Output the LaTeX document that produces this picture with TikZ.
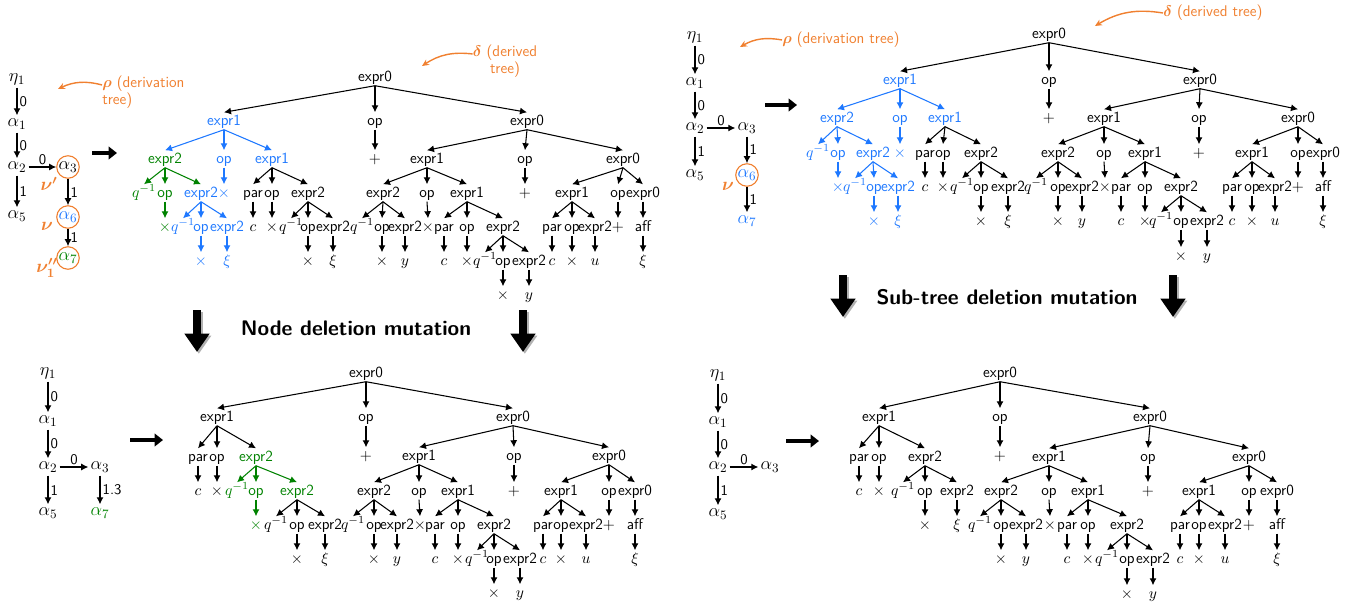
\RequirePackage{fix-cm}
\documentclass[tikz,border=0pt]{standalone}
\usepackage{amsmath,amssymb}
\usepackage{tikz}
\usetikzlibrary{arrows.meta}
\definecolor{derivOrange}{RGB}{240,128,48}
\definecolor{treeBlue}{RGB}{30,120,255}
\definecolor{treeGreen}{RGB}{0,130,0}

\begin{document}
\begin{tikzpicture}[x=0.025cm, y=-0.025cm,
    tn/.style={font=\sffamily\fontsize{11}{13}\selectfont, inner sep=1pt, text height=8pt, text depth=2pt},
    dn/.style={font=\fontsize{13}{15}\selectfont, inner sep=1.5pt, text height=6.5pt, text depth=2.5pt},
    hl/.style={circle, draw=derivOrange, line width=0.8pt, inner sep=0pt, minimum size=15pt},
    el/.style={font=\sffamily\fontsize{10.5}{12}\selectfont, inner sep=1.5pt},
    ed/.style={-{Latex[length=5pt,width=5pt]}, line width=0.75pt},
    edb/.style={ed, color=treeBlue},
    edg/.style={ed, color=treeGreen},
    lbl/.style={text=derivOrange, font=\sffamily\fontsize{11}{12.5}\selectfont, inner sep=0pt},
    nu/.style={lbl, font=\fontsize{13}{15}\selectfont},
    orarrow/.style={-{Stealth[length=5pt,width=4.5pt]}, color=derivOrange, line width=1pt},
    bigright/.style={line width=3pt, -{Triangle[length=6pt,width=9pt]}},
    bigdown/.style={line width=5.5pt, -{Triangle[length=13pt,width=17pt]}},
    title/.style={font=\sffamily\bfseries\fontsize{15}{17}\selectfont}]
  \useasboundingbox (0,0) rectangle (1363,605);

  % ---------- top left: derivation tree
  \node[dn] (Aeta) at (17,79) {$\eta_1$};
  \node[dn] (Aal1) at (17,124) {$\alpha_1$};
  \node[dn] (Aal2) at (17,167) {$\alpha_2$};
  \node[dn] (Aal5) at (17,216) {$\alpha_5$};
  \node[dn, hl] (Aal3) at (68,167) {$\alpha_3$};
  \node[dn, hl, text=treeBlue] (Aal6) at (68,217) {$\alpha_6$};
  \node[dn, hl, text=treeGreen] (Aal7) at (68,258) {$\alpha_7$};
  \draw[ed] (Aeta) -- node[el, right] {0} (Aal1);
  \draw[ed] (Aal1) -- node[el, right] {0} (Aal2);
  \draw[ed] (Aal2) -- node[el, above] {0} (Aal3);
  \draw[ed] (Aal2) -- node[el, right] {1} (Aal5);
  \draw[ed] (Aal3) -- node[el, right] {1} (Aal6);
  \draw[ed] (Aal6) -- node[el, right] {1} (Aal7);
  \node[nu] (Anu3) at (49,184) {$\boldsymbol{\nu'}$};
  \node[nu] (Anu6) at (47,226) {$\boldsymbol{\nu}$};
  \node[nu] (Anu7) at (47,268) {$\boldsymbol{\nu''_1}$};
  \node[lbl, align=left, anchor=west] (Arho) at (102,92) {$\boldsymbol{\rho}$ (derivation\\tree)};
  \coordinate (Arhotip) at (58,89);
  \draw[orarrow] ([yshift=5pt]Arho.west) to[bend right=20] (Arhotip);
  \coordinate (Agos) at (92,153);
  \coordinate (Agoe) at (117,153);
  \draw[bigright] (Agos) -- (Agoe);

  % ---------- top left: derived tree
  \node[tn] (Ar) at (375,77) {expr0};
  \node[lbl, align=center] (Adelta) at (505,61) {$\boldsymbol{\delta}$ (derived\\tree)};
  \coordinate (Adeltatip) at (422,66);
  \draw[orarrow] ([yshift=5pt]Adelta.west) to[bend right=20] (Adeltatip);
  \begin{scope}[every node/.style={tn, text=treeBlue}]
    \node (Ar1) at (224,121) {expr1};
    \node (Ar113) at (201,193) {expr2};
    \node (Ar1131) at (183,227) {$q^{-1}$};
    \node (Ar1132) at (201,227) {op};
    \node (Ar11321) at (201,261) {$\times$};
    \node (Ar1133) at (227,227) {expr2};
    \node (Ar11331) at (227,261) {$\xi$};
    \node (Ar12) at (224,159) {op};
    \node (Ar121) at (224,193) {$\times$};
    \node (Ar13) at (272,159) {expr1};
  \end{scope}
  \begin{scope}[every node/.style={tn, text=treeGreen}]
    \node (Ar11) at (165,159) {expr2};
    \node (Ar111) at (144,193) {$q^{-1}$};
    \node (Ar112) at (165,193) {op};
    \node (Ar1121) at (165,227) {$\times$};
  \end{scope}
  \node[tn] (Ar131) at (253,193) {par};
  \node[tn] (Ar1311) at (253,227) {$c$};
  \node[tn] (Ar132) at (272,193) {op};
  \node[tn] (Ar1321) at (272,227) {$\times$};
  \node[tn] (Ar133) at (308,193) {expr2};
  \node[tn] (Ar1331) at (291,227) {$q^{-1}$};
  \node[tn] (Ar1332) at (308,227) {op};
  \node[tn] (Ar13321) at (308,261) {$\times$};
  \node[tn] (Ar1333) at (333,227) {expr2};
  \node[tn] (Ar13331) at (333,261) {$\xi$};
  \node[tn] (Ar2) at (375,121) {op};
  \node[tn] (Ar21) at (375,159) {$+$};
  \node[tn] (Ar3) at (527,121) {expr0};
  \node[tn] (Ar31) at (427,159) {expr1};
  \node[tn] (Ar311) at (383,193) {expr2};
  \node[tn] (Ar3111) at (362,227) {$q^{-1}$};
  \node[tn] (Ar3112) at (382,227) {op};
  \node[tn] (Ar31121) at (382,261) {$\times$};
  \node[tn] (Ar3113) at (405,227) {expr2};
  \node[tn] (Ar31131) at (405,261) {$y$};
  \node[tn] (Ar312) at (427,193) {op};
  \node[tn] (Ar3121) at (428,227) {$\times$};
  \node[tn] (Ar313) at (467,193) {expr1};
  \node[tn] (Ar3131) at (444,227) {par};
  \node[tn] (Ar31311) at (444,261) {$c$};
  \node[tn] (Ar3132) at (467,227) {op};
  \node[tn] (Ar31321) at (467,261) {$\times$};
  \node[tn] (Ar3133) at (503,227) {expr2};
  \node[tn] (Ar31331) at (485,261) {$q^{-1}$};
  \node[tn] (Ar31332) at (503,261) {op};
  \node[tn] (Ar313321) at (503,295) {$\times$};
  \node[tn] (Ar31333) at (529,261) {expr2};
  \node[tn] (Ar313331) at (529,295) {$y$};
  \node[tn] (Ar32) at (525,159) {op};
  \node[tn] (Ar321) at (525,193) {$+$};
  \node[tn] (Ar33) at (623,159) {expr0};
  \node[tn] (Ar331) at (572,193) {expr1};
  \node[tn] (Ar3311) at (552,227) {par};
  \node[tn] (Ar33111) at (552,261) {$c$};
  \node[tn] (Ar3312) at (572,227) {op};
  \node[tn] (Ar33121) at (572,261) {$\times$};
  \node[tn] (Ar3313) at (595,227) {expr2};
  \node[tn] (Ar33131) at (595,261) {$u$};
  \node[tn] (Ar332) at (618,193) {op};
  \node[tn] (Ar3321) at (618,227) {$+$};
  \node[tn] (Ar333) at (643,193) {expr0};
  \node[tn] (Ar3331) at (643,227) {aff};
  \node[tn] (Ar33311) at (643,261) {$\xi$};

  % ---------- top right: derivation tree
  \node[dn] (Beta) at (695,37) {$\eta_1$};
  \node[dn] (Bal1) at (695,83) {$\alpha_1$};
  \node[dn] (Bal2) at (695,128) {$\alpha_2$};
  \node[dn] (Bal5) at (695,175) {$\alpha_5$};
  \node[dn] (Bal3) at (747,128) {$\alpha_3$};
  \node[dn, hl, text=treeBlue] (Bal6) at (747,175) {$\alpha_6$};
  \node[dn, text=treeBlue] (Bal7) at (747,221) {$\alpha_7$};
  \draw[ed] (Beta) -- node[el, right] {0} (Bal1);
  \draw[ed] (Bal1) -- node[el, right] {0} (Bal2);
  \draw[ed] (Bal2) -- node[el, above] {0} (Bal3);
  \draw[ed] (Bal2) -- node[el, right] {1} (Bal5);
  \draw[ed] (Bal3) -- node[el, right] {1} (Bal6);
  \draw[ed] (Bal6) -- node[el, right] {1} (Bal7);
  \node[nu] (Bnu6) at (728,186) {$\boldsymbol{\nu}$};
  \node[lbl, anchor=west] (Brho) at (782,40) {$\boldsymbol{\rho}$ (derivation tree)};
  \coordinate (Brhotip) at (740,47);
  \draw[orarrow] (Brho.west) to[bend right=20] (Brhotip);
  \coordinate (Bgos) at (765,105);
  \coordinate (Bgoe) at (797,105);
  \draw[bigright] (Bgos) -- (Bgoe);

  % ---------- top right: derived tree
  \node[tn] (Br) at (1049,34) {expr0};
  \node[lbl, anchor=west] (Bdelta) at (1163,13) {$\boldsymbol{\delta}$ (derived tree)};
  \coordinate (Bdeltatip) at (1095,26);
  \draw[orarrow] (Bdelta.west) to[bend right=20] (Bdeltatip);
  \begin{scope}[every node/.style={tn, text=treeBlue}]
    \node (Br1) at (900,80) {expr1};
    \node (Br11) at (837,118) {expr2};
    \node (Br111) at (818,153) {$q^{-1}$};
    \node (Br112) at (838,153) {op};
    \node (Br1121) at (838,187) {$\times$};
    \node (Br113) at (873,153) {expr2};
    \node (Br1131) at (855,187) {$q^{-1}$};
    \node (Br1132) at (874,187) {op};
    \node (Br11321) at (874,221) {$\times$};
    \node (Br1133) at (898,187) {expr2};
    \node (Br11331) at (898,221) {$\xi$};
    \node (Br12) at (900,118) {op};
    \node (Br121) at (900,153) {$\times$};
    \node (Br13) at (945,118) {expr1};
  \end{scope}
  \node[tn] (Br131) at (925,153) {par};
  \node[tn] (Br1311) at (925,187) {$c$};
  \node[tn] (Br132) at (943,153) {op};
  \node[tn] (Br1321) at (943,187) {$\times$};
  \node[tn] (Br133) at (981,153) {expr2};
  \node[tn] (Br1331) at (962,187) {$q^{-1}$};
  \node[tn] (Br1332) at (981,187) {op};
  \node[tn] (Br13321) at (981,221) {$\times$};
  \node[tn] (Br1333) at (1008,187) {expr2};
  \node[tn] (Br13331) at (1008,221) {$\xi$};
  \node[tn] (Br2) at (1049,80) {op};
  \node[tn] (Br21) at (1049,118) {$+$};
  \node[tn] (Br3) at (1200,80) {expr0};
  \node[tn] (Br31) at (1104,118) {expr1};
  \node[tn] (Br311) at (1058,153) {expr2};
  \node[tn] (Br3111) at (1036,187) {$q^{-1}$};
  \node[tn] (Br3112) at (1058,187) {op};
  \node[tn] (Br31121) at (1058,221) {$\times$};
  \node[tn] (Br3113) at (1082,187) {expr2};
  \node[tn] (Br31131) at (1082,221) {$y$};
  \node[tn] (Br312) at (1104,153) {op};
  \node[tn] (Br3121) at (1105,187) {$\times$};
  \node[tn] (Br313) at (1145,153) {expr1};
  \node[tn] (Br3131) at (1121,187) {par};
  \node[tn] (Br31311) at (1121,221) {$c$};
  \node[tn] (Br3132) at (1145,187) {op};
  \node[tn] (Br31321) at (1145,221) {$\times$};
  \node[tn] (Br3133) at (1181,187) {expr2};
  \node[tn] (Br31331) at (1161,221) {$q^{-1}$};
  \node[tn] (Br31332) at (1181,221) {op};
  \node[tn] (Br313321) at (1181,256) {$\times$};
  \node[tn] (Br31333) at (1207,221) {expr2};
  \node[tn] (Br313331) at (1207,256) {$y$};
  \node[tn] (Br32) at (1199,118) {op};
  \node[tn] (Br321) at (1199,153) {$+$};
  \node[tn] (Br33) at (1298,118) {expr0};
  \node[tn] (Br331) at (1252,153) {expr1};
  \node[tn] (Br3311) at (1232,187) {par};
  \node[tn] (Br33111) at (1232,221) {$c$};
  \node[tn] (Br3312) at (1252,187) {op};
  \node[tn] (Br33121) at (1252,221) {$\times$};
  \node[tn] (Br3313) at (1275,187) {expr2};
  \node[tn] (Br33131) at (1275,221) {$u$};
  \node[tn] (Br332) at (1298,153) {op};
  \node[tn] (Br3321) at (1298,187) {$+$};
  \node[tn] (Br333) at (1323,153) {expr0};
  \node[tn] (Br3331) at (1323,187) {aff};
  \node[tn] (Br33311) at (1323,221) {$\xi$};

  % ---------- mutation captions
  \node[title] (NdTitle) at (356,328) {Node deletion mutation};
  \node[title] (StTitle) at (1007,297) {Sub-tree deletion mutation};
  \coordinate (NdLs) at (197,310); \coordinate (NdLe) at (197,352);
  \coordinate (NdRs) at (523,310); \coordinate (NdRe) at (523,352);
  \coordinate (StLs) at (843,275); \coordinate (StLe) at (843,317);
  \coordinate (StRs) at (1173,275); \coordinate (StRe) at (1173,317);
  \foreach \s/\e in {NdLs/NdLe, NdRs/NdRe, StLs/StLe, StRs/StRe} {
    \draw[bigdown, black!30, transform canvas={xshift=1.3pt, yshift=-1.3pt}] (\s) -- (\e);
    \draw[bigdown] (\s) -- (\e);
  }

  % ---------- bottom left: derivation tree
  \node[dn] (Ceta) at (48,373) {$\eta_1$};
  \node[dn] (Cal1) at (48,421) {$\alpha_1$};
  \node[dn] (Cal2) at (48,467) {$\alpha_2$};
  \node[dn] (Cal5) at (48,513) {$\alpha_5$};
  \node[dn] (Cal3) at (100,467) {$\alpha_3$};
  \node[dn, text=treeGreen] (Cal7) at (100,513) {$\alpha_7$};
  \draw[ed] (Ceta) -- node[el, right] {0} (Cal1);
  \draw[ed] (Cal1) -- node[el, right] {0} (Cal2);
  \draw[ed] (Cal2) -- node[el, above] {0} (Cal3);
  \draw[ed] (Cal2) -- node[el, right] {1} (Cal5);
  \draw[ed] (Cal3) -- node[el, right] {1.3} (Cal7);
  \coordinate (Cgos) at (130,440);
  \coordinate (Cgoe) at (163,440);
  \draw[bigright] (Cgos) -- (Cgoe);

  % ---------- bottom left: derived tree
  \node[tn] (Cr) at (366,373) {expr0};
  \node[tn] (Cr1) at (217,417) {expr1};
  \node[tn] (Cr11) at (198,457) {par};
  \node[tn] (Cr111) at (198,491) {$c$};
  \node[tn] (Cr12) at (217,457) {op};
  \node[tn] (Cr121) at (217,491) {$\times$};
  \begin{scope}[every node/.style={tn, text=treeGreen}]
    \node (Cr13) at (256,457) {expr2};
    \node (Cr131) at (237,491) {$q^{-1}$};
    \node (Cr132) at (256,491) {op};
    \node (Cr1321) at (256,525) {$\times$};
    \node (Cr133) at (297,491) {expr2};
  \end{scope}
  \node[tn] (Cr1331) at (276,525) {$q^{-1}$};
  \node[tn] (Cr1332) at (297,525) {op};
  \node[tn] (Cr13321) at (297,559) {$\times$};
  \node[tn] (Cr1333) at (325,525) {expr2};
  \node[tn] (Cr13331) at (325,559) {$\xi$};
  \node[tn] (Cr2) at (366,417) {op};
  \node[tn] (Cr21) at (366,456) {$+$};
  \node[tn] (Cr3) at (513,417) {expr0};
  \node[tn] (Cr31) at (419,456) {expr1};
  \node[tn] (Cr311) at (374,491) {expr2};
  \node[tn] (Cr3111) at (353,525) {$q^{-1}$};
  \node[tn] (Cr3112) at (374,525) {op};
  \node[tn] (Cr31121) at (374,559) {$\times$};
  \node[tn] (Cr3113) at (397,525) {expr2};
  \node[tn] (Cr31131) at (397,559) {$y$};
  \node[tn] (Cr312) at (419,491) {op};
  \node[tn] (Cr3121) at (420,525) {$\times$};
  \node[tn] (Cr313) at (458,491) {expr1};
  \node[tn] (Cr3131) at (435,525) {par};
  \node[tn] (Cr31311) at (435,559) {$c$};
  \node[tn] (Cr3132) at (458,525) {op};
  \node[tn] (Cr31321) at (458,559) {$\times$};
  \node[tn] (Cr3133) at (494,525) {expr2};
  \node[tn] (Cr31331) at (477,559) {$q^{-1}$};
  \node[tn] (Cr31332) at (494,559) {op};
  \node[tn] (Cr313321) at (494,593) {$\times$};
  \node[tn] (Cr31333) at (520,559) {expr2};
  \node[tn] (Cr313331) at (520,593) {$y$};
  \node[tn] (Cr32) at (514,456) {op};
  \node[tn] (Cr321) at (514,491) {$+$};
  \node[tn] (Cr33) at (609,456) {expr0};
  \node[tn] (Cr331) at (561,491) {expr1};
  \node[tn] (Cr3311) at (543,525) {par};
  \node[tn] (Cr33111) at (543,559) {$c$};
  \node[tn] (Cr3312) at (561,525) {op};
  \node[tn] (Cr33121) at (561,559) {$\times$};
  \node[tn] (Cr3313) at (586,525) {expr2};
  \node[tn] (Cr33131) at (586,559) {$u$};
  \node[tn] (Cr332) at (609,491) {op};
  \node[tn] (Cr3321) at (609,525) {$+$};
  \node[tn] (Cr333) at (635,491) {expr0};
  \node[tn] (Cr3331) at (635,525) {aff};
  \node[tn] (Cr33311) at (635,559) {$\xi$};

  % ---------- bottom right: derivation tree
  \node[dn] (Deta) at (718,375) {$\eta_1$};
  \node[dn] (Dal1) at (718,422) {$\alpha_1$};
  \node[dn] (Dal2) at (718,467) {$\alpha_2$};
  \node[dn] (Dal5) at (718,514) {$\alpha_5$};
  \node[dn] (Dal3) at (770,467) {$\alpha_3$};
  \draw[ed] (Deta) -- node[el, right] {0} (Dal1);
  \draw[ed] (Dal1) -- node[el, right] {0} (Dal2);
  \draw[ed] (Dal2) -- node[el, above] {0} (Dal3);
  \draw[ed] (Dal2) -- node[el, right] {1} (Dal5);
  \coordinate (Dgos) at (786,441);
  \coordinate (Dgoe) at (819,441);
  \draw[bigright] (Dgos) -- (Dgoe);

  % ---------- bottom right: derived tree
  \node[tn] (Dr) at (1000,373) {expr0};
  \node[tn] (Dr1) at (879,417) {expr1};
  \node[tn] (Dr11) at (859,457) {par};
  \node[tn] (Dr111) at (859,491) {$c$};
  \node[tn] (Dr12) at (879,457) {op};
  \node[tn] (Dr121) at (879,491) {$\times$};
  \node[tn] (Dr13) at (925,457) {expr2};
  \node[tn] (Dr131) at (903,491) {$q^{-1}$};
  \node[tn] (Dr132) at (925,491) {op};
  \node[tn] (Dr1321) at (925,525) {$\times$};
  \node[tn] (Dr133) at (957,491) {expr2};
  \node[tn] (Dr1331) at (957,525) {$\xi$};
  \node[tn] (Dr2) at (1000,417) {op};
  \node[tn] (Dr21) at (1000,456) {$+$};
  \node[tn] (Dr3) at (1150,417) {expr0};
  \node[tn] (Dr31) at (1049,457) {expr1};
  \node[tn] (Dr311) at (1001,491) {expr2};
  \node[tn] (Dr3111) at (980,525) {$q^{-1}$};
  \node[tn] (Dr3112) at (1001,525) {op};
  \node[tn] (Dr31121) at (1001,559) {$\times$};
  \node[tn] (Dr3113) at (1026,525) {expr2};
  \node[tn] (Dr31131) at (1026,559) {$y$};
  \node[tn] (Dr312) at (1049,491) {op};
  \node[tn] (Dr3121) at (1050,525) {$\times$};
  \node[tn] (Dr313) at (1088,491) {expr1};
  \node[tn] (Dr3131) at (1067,525) {par};
  \node[tn] (Dr31311) at (1067,559) {$c$};
  \node[tn] (Dr3132) at (1088,525) {op};
  \node[tn] (Dr31321) at (1088,559) {$\times$};
  \node[tn] (Dr3133) at (1127,525) {expr2};
  \node[tn] (Dr31331) at (1107,559) {$q^{-1}$};
  \node[tn] (Dr31332) at (1127,559) {op};
  \node[tn] (Dr313321) at (1127,594) {$\times$};
  \node[tn] (Dr31333) at (1153,559) {expr2};
  \node[tn] (Dr313331) at (1153,594) {$y$};
  \node[tn] (Dr32) at (1148,457) {op};
  \node[tn] (Dr321) at (1148,491) {$+$};
  \node[tn] (Dr33) at (1249,457) {expr0};
  \node[tn] (Dr331) at (1199,491) {expr1};
  \node[tn] (Dr3311) at (1180,525) {par};
  \node[tn] (Dr33111) at (1180,559) {$c$};
  \node[tn] (Dr3312) at (1199,525) {op};
  \node[tn] (Dr33121) at (1199,559) {$\times$};
  \node[tn] (Dr3313) at (1225,525) {expr2};
  \node[tn] (Dr33131) at (1225,559) {$u$};
  \node[tn] (Dr332) at (1249,491) {op};
  \node[tn] (Dr3321) at (1249,525) {$+$};
  \node[tn] (Dr333) at (1277,491) {expr0};
  \node[tn] (Dr3331) at (1277,525) {aff};
  \node[tn] (Dr33311) at (1277,559) {$\xi$};

  % ---------- tree edges
  % root, op and right expr0 sub-tree: the same in all four trees
  \foreach \t in {A,B,C,D} {
    \foreach \p/\c in {r/r1, r/r2, r2/r21, r/r3, r3/r31, r31/r311, r311/r3111, r311/r3112,
        r3112/r31121, r311/r3113, r3113/r31131, r31/r312, r312/r3121, r31/r313,
        r313/r3131, r3131/r31311, r313/r3132, r3132/r31321, r313/r3133, r3133/r31331,
        r3133/r31332, r31332/r313321, r3133/r31333, r31333/r313331, r3/r32, r32/r321,
        r3/r33, r33/r331, r331/r3311, r3311/r33111, r331/r3312, r3312/r33121,
        r331/r3313, r3313/r33131, r33/r332, r332/r3321, r33/r333, r333/r3331, r3331/r33311}
      \draw[ed] (\t\p.south) -- (\t\c.north);
  }
  % left sub-tree, top row
  \foreach \t in {A,B} {
    \foreach \p/\c in {r13/r131, r131/r1311, r13/r132, r132/r1321, r13/r133, r133/r1331,
        r133/r1332, r1332/r13321, r133/r1333, r1333/r13331}
      \draw[ed] (\t\p.south) -- (\t\c.north);
    \foreach \p/\c in {r1/r11, r1/r12, r1/r13, r12/r121, r113/r1131, r113/r1132,
        r1132/r11321, r113/r1133, r1133/r11331}
      \draw[edb] (\t\p.south) -- (\t\c.north);
  }
  \foreach \p/\c in {r11/r111, r11/r112, r112/r1121, r11/r113}
    \draw[edg] (A\p.south) -- (A\c.north);
  \foreach \p/\c in {r11/r111, r11/r112, r112/r1121, r11/r113}
    \draw[edb] (B\p.south) -- (B\c.north);
  % left sub-tree, bottom row
  \foreach \t in {C,D} {
    \foreach \p/\c in {r1/r11, r11/r111, r1/r12, r12/r121, r1/r13}
      \draw[ed] (\t\p.south) -- (\t\c.north);
  }
  \foreach \p/\c in {r13/r131, r13/r132, r132/r1321, r13/r133}
    \draw[edg] (C\p.south) -- (C\c.north);
  \foreach \p/\c in {r133/r1331, r133/r1332, r1332/r13321, r133/r1333, r1333/r13331}
    \draw[ed] (C\p.south) -- (C\c.north);
  \foreach \p/\c in {r13/r131, r13/r132, r132/r1321, r13/r133, r133/r1331}
    \draw[ed] (D\p.south) -- (D\c.north);
\end{tikzpicture}
\end{document}
